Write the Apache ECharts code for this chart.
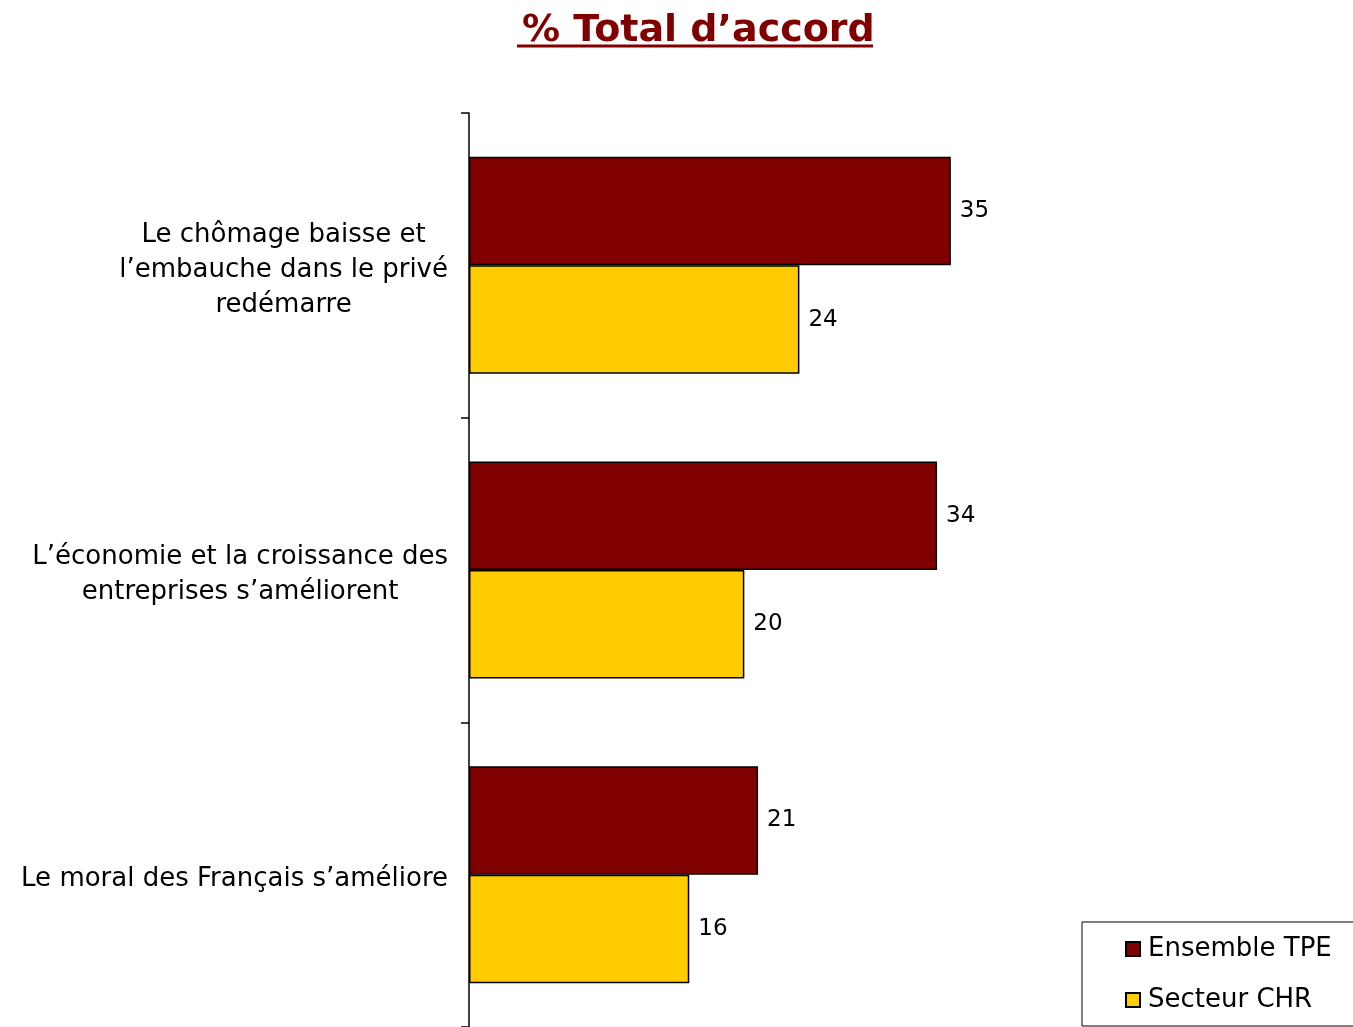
<!DOCTYPE html>
<html>
<head>
<meta charset="utf-8">
<script src="https://cdn.jsdelivr.net/npm/echarts@6/dist/echarts.min.js"></script>
<style>
  html, body { margin: 0; padding: 0; background: #fff; }
  #chart { width: 1353px; height: 1027px; }
</style>
</head>
<body>
<div id="chart"></div>
<script>
  // data
  var categories = [
    'Le chômage baisse et\nl\u2019embauche dans le privé\nredémarre',
    'L\u2019économie et la croissance des\nentreprises s\u2019améliorent',
    'Le moral des Français s\u2019améliore'
  ];
  var seriesNames = ['Ensemble TPE', 'Secteur CHR'];
  var ensembleTPE = [35, 34, 21];
  var secteurCHR = [24, 20, 16];
  var colors = ['#800000', '#FFCC00'];

  var font = 'DejaVu Sans, Verdana, sans-serif';

  var chart = echarts.init(document.getElementById('chart'));

  var valueLabel = {
    show: true,
    position: 'right',
    distance: 9,
    color: '#000',
    fontFamily: font,
    fontSize: 23
  };

  var options = {
    animation: false,
    color: colors,
    title: {
      text: '% Total d\u2019accord',
      left: 517,
      top: 7,
      textStyle: {
        fontFamily: font,
        fontWeight: 'bold',
        fontSize: 38,
        color: '#800000'
      }
    },
    // underline of the title
    graphic: [{
      type: 'line',
      shape: { x1: 517, y1: 46, x2: 873, y2: 46 },
      style: { stroke: '#800000', lineWidth: 3 }
    }],
    legend: {
      orient: 'vertical',
      left: 1082,
      top: 922,
      padding: [14, 60, 13, 43],
      borderColor: '#000',
      borderWidth: 1,
      itemWidth: 14,
      itemHeight: 14,
      itemGap: 25,
      icon: 'rect',
      data: seriesNames,
      textStyle: {
        fontFamily: font,
        fontSize: 26,
        lineHeight: 26,
        color: '#000',
        padding: [0, 0, 0, 3]
      }
    },
    grid: {
      left: 469,
      top: 113,
      right: 58,
      height: 919
    },
    xAxis: {
      type: 'value',
      min: 0,
      max: 60,
      show: false
    },
    yAxis: {
      type: 'category',
      inverse: true,
      data: categories,
      axisLine: { show: true, lineStyle: { color: '#000', width: 1.5 } },
      axisTick: { show: true, inside: false, length: 8, lineStyle: { color: '#000', width: 1.5 } },
      axisLabel: {
        margin: 21,
        padding: [10, 0, 0, 0],
        color: '#000',
        fontFamily: font,
        fontSize: 26,
        lineHeight: 35,
        formatter: function (v) {
          return v.split('\n').map(function (l) { return '{c|' + l + '}'; }).join('\n');
        },
        rich: {
          c: { align: 'center', fontFamily: font, fontSize: 26, lineHeight: 35, color: '#000' }
        }
      }
    },
    series: [{
      name: seriesNames[0],
      type: 'bar',
      data: ensembleTPE,
      barGap: '0%',
      barCategoryGap: '28.8%',
      itemStyle: { borderColor: '#000', borderWidth: 1.5 },
      label: valueLabel
    }, {
      name: seriesNames[1],
      type: 'bar',
      data: secteurCHR,
      barGap: '0%',
      barCategoryGap: '28.8%',
      itemStyle: { borderColor: '#000', borderWidth: 1.5 },
      label: valueLabel
    }]
  };

  chart.setOption(options);
</script>
</body>
</html>
